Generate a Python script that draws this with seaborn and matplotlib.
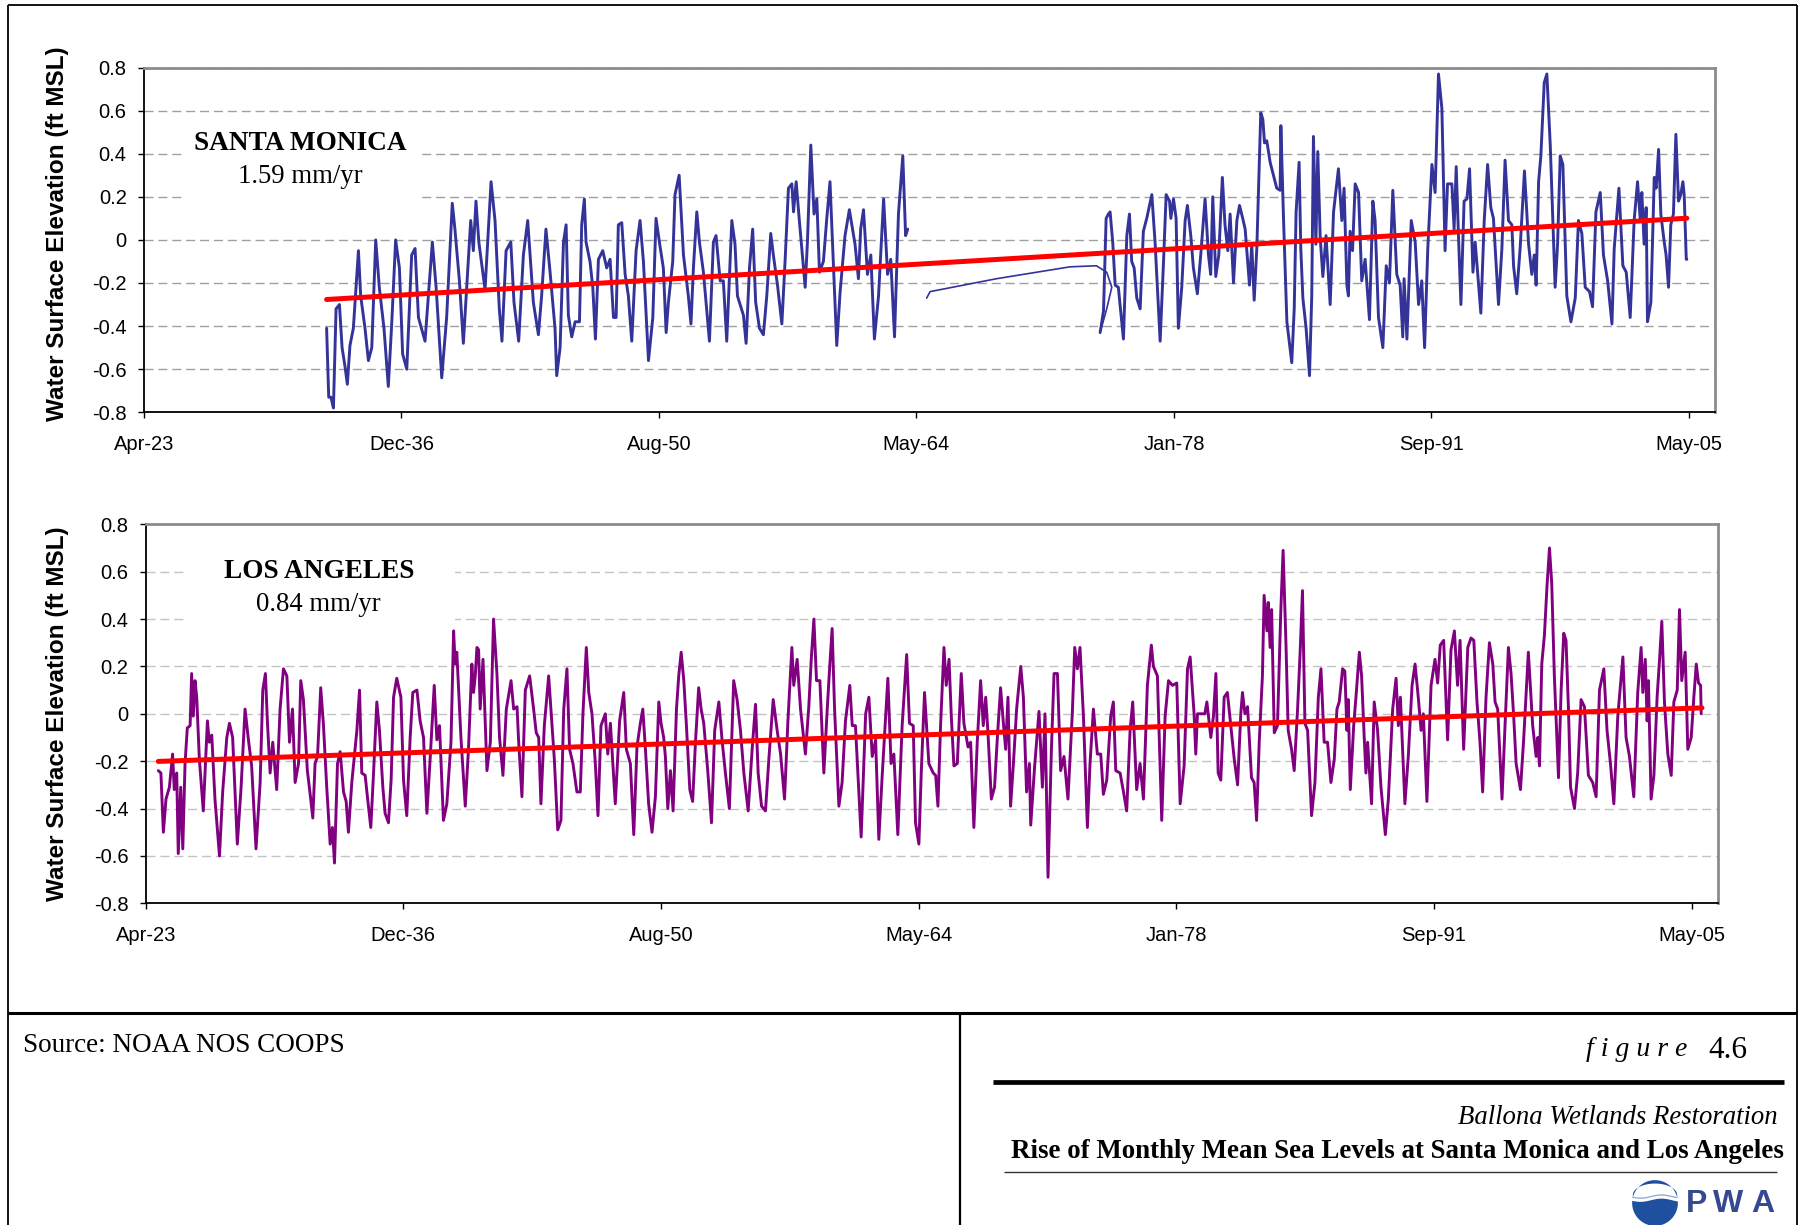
import numpy as np
import pandas as pd
import matplotlib
matplotlib.use("Agg")
import matplotlib.pyplot as plt
from matplotlib.lines import Line2D
from matplotlib.patches import Rectangle, Polygon
import seaborn as sns
from datetime import datetime, timedelta

# ---------------------------------------------------------------------------
# Monthly mean sea level (ft MSL), as (decimal year, level) pairs
# ---------------------------------------------------------------------------
sm_1933_1943 = [
    (1932.98, -0.41), (1933.09, -0.73), (1933.21, -0.73), (1933.34, -0.78), (1933.48, -0.32),
    (1933.66, -0.30), (1933.80, -0.50), (1933.96, -0.59), (1934.08, -0.67), (1934.22, -0.49),
    (1934.40, -0.41), (1934.67, -0.05), (1934.79, -0.26), (1935.02, -0.41), (1935.20, -0.56),
    (1935.38, -0.50), (1935.59, 0.00), (1935.78, -0.22), (1936.03, -0.41), (1936.26, -0.68),
    (1936.44, -0.39), (1936.65, 0.00), (1936.85, -0.13), (1937.02, -0.53), (1937.24, -0.60),
    (1937.50, -0.07), (1937.68, -0.04), (1937.86, -0.36), (1938.21, -0.47), (1938.60, -0.01),
    (1938.80, -0.22), (1939.10, -0.64), (1939.36, -0.36), (1939.66, 0.17), (1939.80, 0.05),
    (1940.04, -0.19), (1940.25, -0.48), (1940.64, 0.09), (1940.78, -0.05), (1940.92, 0.18),
    (1941.07, -0.01), (1941.40, -0.23), (1941.72, 0.27), (1941.93, 0.09), (1942.16, -0.32),
    (1942.30, -0.47), (1942.52, -0.05), (1942.77, -0.01), (1942.94, -0.29), (1943.19, -0.47),
    (1943.44, -0.07), (1943.67, 0.09),
]
sm_1944_1963 = [
    (1943.97, -0.29), (1944.24, -0.44), (1944.41, -0.26), (1944.64, 0.05), (1944.86, -0.15),
    (1945.12, -0.41), (1945.21, -0.63), (1945.39, -0.50), (1945.57, -0.01), (1945.71, 0.07),
    (1945.83, -0.35), (1946.01, -0.45), (1946.19, -0.38), (1946.42, -0.38), (1946.54, 0.07),
    (1946.68, 0.19), (1946.77, -0.01), (1946.98, -0.10), (1947.13, -0.22), (1947.27, -0.46),
    (1947.43, -0.09), (1947.66, -0.05), (1947.87, -0.13), (1948.05, -0.09), (1948.23, -0.36),
    (1948.37, -0.36), (1948.49, 0.07), (1948.67, 0.08), (1948.85, -0.16), (1949.02, -0.26),
    (1949.20, -0.47), (1949.43, -0.05), (1949.64, 0.09), (1949.82, -0.10), (1950.09, -0.56),
    (1950.32, -0.36), (1950.49, 0.10), (1950.67, -0.01), (1950.88, -0.13), (1951.03, -0.43),
    (1951.15, -0.29), (1951.38, -0.10), (1951.50, 0.21), (1951.72, 0.30), (1951.95, -0.07),
    (1952.21, -0.26), (1952.35, -0.39), (1952.48, -0.13), (1952.66, 0.13), (1952.80, -0.01),
    (1953.01, -0.15), (1953.33, -0.47), (1953.54, -0.01), (1953.68, 0.02), (1953.90, -0.19),
    (1954.07, -0.19), (1954.25, -0.47), (1954.52, 0.09), (1954.69, -0.02), (1954.82, -0.26),
    (1955.14, -0.35), (1955.28, -0.48), (1955.46, -0.13), (1955.63, 0.05), (1955.79, -0.29),
    (1955.99, -0.41), (1956.20, -0.44), (1956.38, -0.26), (1956.59, 0.03), (1956.73, -0.07),
    (1956.95, -0.21), (1957.18, -0.39), (1957.35, -0.10), (1957.53, 0.24), (1957.71, 0.26),
    (1957.80, 0.13), (1957.94, 0.27), (1958.11, 0.09), (1958.42, -0.22), (1958.54, -0.01),
    (1958.72, 0.44), (1958.89, 0.12), (1959.04, 0.19), (1959.18, -0.15), (1959.39, -0.10),
    (1959.57, 0.10), (1959.74, 0.27), (1959.89, -0.05), (1960.10, -0.49), (1960.28, -0.24),
    (1960.54, 0.02), (1960.77, 0.14), (1960.90, 0.07), (1961.07, -0.02), (1961.25, -0.18),
    (1961.37, 0.05), (1961.52, 0.14), (1961.73, -0.16), (1961.91, -0.07), (1962.10, -0.46),
    (1962.32, -0.26), (1962.59, 0.19), (1962.80, -0.16), (1962.97, -0.09), (1963.17, -0.45),
    (1963.38, 0.12), (1963.61, 0.39), (1963.76, 0.02), (1963.87, 0.05),
]
# smoothed connector drawn across the 1964-1974 record gap
sm_gap_link = [
    (1964.88, -0.27), (1965.06, -0.24), (1968.60, -0.18), (1972.50, -0.125),
    (1973.90, -0.12), (1974.45, -0.15), (1974.72, -0.22), (1974.45, -0.32), (1974.10, -0.43),
]
sm_1974_1986 = [
    (1974.10, -0.43), (1974.28, -0.33), (1974.42, 0.10), (1974.54, 0.12), (1974.63, 0.13),
    (1974.77, -0.01), (1974.90, -0.21), (1975.07, -0.22), (1975.34, -0.46), (1975.52, 0.02),
    (1975.66, 0.12), (1975.78, -0.10), (1975.91, -0.13), (1976.05, -0.27), (1976.23, -0.32),
    (1976.40, 0.04), (1976.58, 0.10), (1976.85, 0.21), (1977.02, -0.01), (1977.29, -0.47),
    (1977.47, -0.10), (1977.61, 0.21), (1977.79, 0.18), (1977.86, 0.10), (1978.00, 0.19),
    (1978.14, 0.10), (1978.26, -0.41), (1978.44, -0.22), (1978.62, 0.09), (1978.74, 0.16),
    (1978.92, 0.02), (1979.06, -0.13), (1979.27, -0.25), (1979.45, -0.07), (1979.68, 0.19),
    (1979.86, -0.07), (1979.98, -0.16), (1980.09, 0.20), (1980.25, -0.17), (1980.41, -0.07),
    (1980.60, 0.29), (1980.74, 0.07), (1980.89, -0.05), (1981.01, 0.12), (1981.19, -0.20),
    (1981.37, 0.09), (1981.51, 0.16), (1981.68, 0.10), (1981.81, 0.05), (1982.04, -0.21),
    (1982.16, -0.02), (1982.29, -0.28), (1982.43, -0.04), (1982.64, 0.59), (1982.75, 0.56),
    (1982.84, 0.45), (1982.96, 0.46), (1983.14, 0.36), (1983.49, 0.24), (1983.67, 0.23),
    (1983.71, 0.53), (1983.85, 0.10), (1984.03, -0.38), (1984.29, -0.57), (1984.42, -0.32),
    (1984.52, 0.13), (1984.68, 0.36), (1984.77, -0.04), (1984.88, -0.27), (1985.05, -0.41),
    (1985.23, -0.63), (1985.35, -0.26), (1985.44, 0.48), (1985.57, -0.02), (1985.67, 0.41),
    (1985.80, 0.01), (1985.94, -0.17), (1986.11, 0.02),
]
sm_1986_2005 = [
    (1986.33, -0.30), (1986.51, 0.13), (1986.77, 0.33), (1986.95, 0.09), (1987.07, 0.24),
    (1987.22, -0.21), (1987.30, -0.26), (1987.39, 0.04), (1987.52, -0.05), (1987.66, 0.26),
    (1987.84, 0.22), (1988.01, -0.19), (1988.19, -0.09), (1988.42, -0.37), (1988.60, 0.18),
    (1988.72, 0.09), (1988.90, -0.36), (1989.13, -0.50), (1989.31, -0.12), (1989.48, -0.20),
    (1989.66, 0.23), (1989.87, -0.16), (1990.05, -0.21), (1990.19, -0.45), (1990.26, -0.18),
    (1990.41, -0.46), (1990.64, 0.09), (1990.85, -0.01), (1991.03, -0.30), (1991.20, -0.19),
    (1991.35, -0.50), (1991.52, -0.04), (1991.74, 0.35), (1991.91, 0.22), (1992.09, 0.77),
    (1992.27, 0.61), (1992.44, -0.05), (1992.57, 0.26), (1992.80, 0.26), (1992.92, 0.05),
    (1993.03, 0.34), (1993.15, 0.02), (1993.28, -0.30), (1993.45, 0.18), (1993.60, 0.19),
    (1993.74, 0.33), (1993.92, -0.15), (1994.04, -0.01), (1994.34, -0.34), (1994.52, 0.09),
    (1994.70, 0.35), (1994.87, 0.15), (1995.01, 0.10), (1995.28, -0.30), (1995.46, -0.04),
    (1995.63, 0.37), (1995.81, 0.09), (1995.99, 0.07), (1996.08, -0.12), (1996.25, -0.25),
    (1996.43, -0.04), (1996.66, 0.32), (1996.88, -0.02), (1997.05, -0.16), (1997.18, -0.07),
    (1997.28, -0.21), (1997.41, 0.27), (1997.53, 0.39), (1997.71, 0.73), (1997.85, 0.77),
    (1998.03, 0.44), (1998.17, 0.09), (1998.29, -0.22), (1998.42, -0.02), (1998.56, 0.39),
    (1998.70, 0.35), (1998.91, -0.26), (1999.13, -0.38), (1999.36, -0.27), (1999.53, 0.09),
    (1999.71, 0.03), (1999.89, -0.22), (2000.12, -0.24), (2000.28, -0.31), (2000.46, 0.13),
    (2000.69, 0.22), (2000.86, -0.07), (2001.08, -0.19), (2001.31, -0.39), (2001.43, -0.04),
    (2001.68, 0.24), (2001.89, -0.12), (2002.07, -0.15), (2002.28, -0.36), (2002.49, 0.09),
    (2002.67, 0.27), (2002.81, 0.10), (2002.90, 0.22), (2003.02, -0.02), (2003.13, 0.15),
    (2003.20, -0.38), (2003.38, -0.29), (2003.56, 0.29), (2003.66, 0.24), (2003.79, 0.42),
    (2003.91, 0.12), (2004.09, -0.01), (2004.19, -0.07), (2004.32, -0.22), (2004.44, 0.07),
    (2004.58, 0.12), (2004.71, 0.49), (2004.85, 0.18), (2004.97, 0.21), (2005.08, 0.27),
    (2005.15, 0.21), (2005.26, -0.09), (2005.29, -0.09),
]

la_1924_1943 = [
    (1923.94, -0.24), (1924.08, -0.25), (1924.21, -0.50), (1924.35, -0.36), (1924.53, -0.31),
    (1924.70, -0.17), (1924.79, -0.32), (1924.92, -0.25), (1925.00, -0.59), (1925.13, -0.31),
    (1925.24, -0.57), (1925.36, -0.21), (1925.48, -0.06), (1925.63, -0.05), (1925.71, 0.17),
    (1925.80, -0.01), (1925.89, 0.14), (1925.98, 0.07), (1926.12, -0.19), (1926.33, -0.41),
    (1926.55, -0.03), (1926.65, -0.12), (1926.78, -0.09), (1926.95, -0.36), (1927.19, -0.60),
    (1927.36, -0.33), (1927.58, -0.10), (1927.72, -0.04), (1927.89, -0.10), (1928.14, -0.55),
    (1928.34, -0.31), (1928.55, 0.02), (1928.73, -0.11), (1928.90, -0.22), (1929.13, -0.57),
    (1929.35, -0.29), (1929.49, 0.10), (1929.63, 0.17), (1929.74, -0.04), (1929.88, -0.25),
    (1930.02, -0.12), (1930.23, -0.32), (1930.41, 0.02), (1930.59, 0.19), (1930.77, 0.16),
    (1930.91, -0.12), (1931.07, 0.02), (1931.21, -0.29), (1931.39, -0.21), (1931.51, 0.14),
    (1931.65, 0.06), (1931.86, -0.24), (1932.01, -0.34), (1932.15, -0.44), (1932.27, -0.21),
    (1932.40, -0.18), (1932.57, 0.11), (1932.71, -0.04), (1932.89, -0.31), (1933.07, -0.55),
    (1933.19, -0.48), (1933.30, -0.63), (1933.46, -0.21), (1933.60, -0.16), (1933.78, -0.33),
    (1933.92, -0.37), (1934.04, -0.50), (1934.22, -0.29), (1934.49, -0.07), (1934.63, 0.10),
    (1934.75, -0.25), (1934.93, -0.26), (1935.05, -0.35), (1935.23, -0.48), (1935.37, -0.26),
    (1935.55, 0.05), (1935.69, -0.07), (1935.87, -0.31), (1935.99, -0.42), (1936.17, -0.46),
    (1936.31, -0.28), (1936.44, 0.07), (1936.61, 0.15), (1936.83, 0.07), (1936.97, -0.28),
    (1937.14, -0.43), (1937.32, -0.10), (1937.46, 0.09), (1937.68, 0.10), (1937.85, -0.03),
    (1938.03, -0.10), (1938.21, -0.42), (1938.39, -0.18), (1938.60, 0.12), (1938.74, -0.11),
    (1938.88, -0.05), (1939.09, -0.45), (1939.27, -0.38), (1939.49, -0.12), (1939.63, 0.35),
    (1939.71, 0.21), (1939.80, 0.26), (1940.02, -0.10), (1940.25, -0.39), (1940.42, -0.15),
    (1940.60, 0.21), (1940.69, 0.09), (1940.78, 0.16), (1940.87, 0.28), (1940.96, 0.27),
    (1941.04, 0.02), (1941.19, 0.23), (1941.40, -0.24), (1941.58, -0.12), (1941.75, 0.40),
    (1941.93, 0.17), (1942.07, -0.10), (1942.25, -0.26), (1942.43, 0.02), (1942.68, 0.14),
    (1942.82, 0.02), (1943.00, 0.03), (1943.08, -0.11), (1943.26, -0.35), (1943.44, 0.10),
    (1943.67, 0.16),
]
la_1944_1964 = [
    (1943.88, 0.02), (1944.02, -0.08), (1944.15, -0.10), (1944.27, -0.38), (1944.45, -0.05),
    (1944.68, 0.16), (1944.86, -0.05), (1944.98, -0.19), (1945.16, -0.49), (1945.33, -0.45),
    (1945.48, 0.02), (1945.65, 0.19), (1945.79, -0.15), (1945.97, -0.21), (1946.18, -0.33),
    (1946.36, -0.33), (1946.50, 0.00), (1946.68, 0.28), (1946.81, 0.09), (1946.98, 0.00),
    (1947.16, -0.21), (1947.30, -0.43), (1947.46, -0.05), (1947.69, 0.00), (1947.82, -0.17),
    (1947.96, -0.04), (1948.22, -0.38), (1948.45, -0.03), (1948.67, 0.09), (1948.81, -0.15),
    (1949.02, -0.21), (1949.20, -0.51), (1949.37, -0.14), (1949.55, -0.04), (1949.68, 0.02),
    (1949.82, -0.15), (1949.99, -0.38), (1950.17, -0.50), (1950.35, -0.35), (1950.53, 0.05),
    (1950.65, -0.04), (1950.79, -0.10), (1950.88, -0.18), (1951.01, -0.40), (1951.15, -0.24),
    (1951.29, -0.41), (1951.47, 0.02), (1951.59, 0.16), (1951.72, 0.26), (1951.86, 0.14),
    (1952.00, -0.05), (1952.18, -0.32), (1952.33, -0.37), (1952.48, -0.12), (1952.65, 0.11),
    (1952.78, 0.02), (1952.92, -0.04), (1953.13, -0.24), (1953.33, -0.46), (1953.50, -0.07),
    (1953.72, 0.05), (1953.89, -0.11), (1954.07, -0.25), (1954.28, -0.40), (1954.51, 0.14),
    (1954.69, 0.06), (1954.87, -0.07), (1955.05, -0.25), (1955.28, -0.41), (1955.49, -0.15),
    (1955.67, 0.04), (1955.81, -0.25), (1955.99, -0.39), (1956.20, -0.41), (1956.38, -0.19),
    (1956.61, 0.06), (1956.82, -0.07), (1957.00, -0.17), (1957.21, -0.36), (1957.39, -0.03),
    (1957.60, 0.28), (1957.70, 0.12), (1957.88, 0.23), (1958.06, 0.02), (1958.32, -0.17),
    (1958.50, 0.03), (1958.63, 0.23), (1958.77, 0.40), (1958.91, 0.14), (1959.09, 0.14),
    (1959.30, -0.25), (1959.48, 0.02), (1959.62, 0.21), (1959.74, 0.36), (1959.87, 0.02),
    (1960.10, -0.39), (1960.27, -0.29), (1960.45, -0.03), (1960.68, 0.12), (1960.81, -0.05),
    (1960.98, -0.05), (1961.28, -0.52), (1961.52, 0.00), (1961.69, 0.07), (1961.87, -0.18),
    (1962.05, -0.11), (1962.22, -0.53), (1962.40, -0.26), (1962.70, 0.15), (1962.87, -0.21),
    (1963.02, -0.17), (1963.23, -0.51), (1963.46, -0.05), (1963.70, 0.25), (1963.85, -0.04),
    (1964.05, -0.05), (1964.17, -0.46), (1964.35, -0.55), (1964.48, -0.24), (1964.65, 0.09),
    (1964.88, -0.21),
]
la_1965_1986 = [
    (1965.11, -0.25), (1965.24, -0.26), (1965.36, -0.39), (1965.50, -0.05), (1965.68, 0.28),
    (1965.80, 0.12), (1965.95, 0.23), (1966.07, -0.01), (1966.21, -0.22), (1966.39, -0.21),
    (1966.60, 0.17), (1966.74, -0.04), (1966.96, -0.14), (1967.10, -0.12), (1967.27, -0.48),
    (1967.45, -0.12), (1967.63, 0.14), (1967.77, -0.05), (1967.90, 0.07), (1968.02, -0.08),
    (1968.20, -0.36), (1968.37, -0.31), (1968.52, -0.10), (1968.69, 0.11), (1968.84, -0.04),
    (1968.96, -0.15), (1969.08, 0.07), (1969.22, -0.39), (1969.37, -0.21), (1969.54, 0.02),
    (1969.76, 0.20), (1969.90, 0.07), (1970.07, -0.33), (1970.22, -0.21), (1970.29, -0.47),
    (1970.50, -0.22), (1970.73, 0.01), (1970.91, -0.31), (1971.05, 0.00), (1971.21, -0.69),
    (1971.39, -0.15), (1971.53, 0.17), (1971.71, 0.17), (1971.88, -0.24), (1972.06, -0.18),
    (1972.27, -0.36), (1972.50, 0.00), (1972.63, 0.28), (1972.77, 0.19), (1972.91, 0.28),
    (1973.09, -0.01), (1973.30, -0.48), (1973.44, -0.21), (1973.62, 0.02), (1973.83, -0.17),
    (1974.01, -0.17), (1974.15, -0.34), (1974.33, -0.28), (1974.54, -0.01), (1974.68, 0.05),
    (1974.81, -0.24), (1975.04, -0.25), (1975.22, -0.33), (1975.39, -0.41), (1975.57, -0.07),
    (1975.71, 0.05), (1975.92, -0.32), (1976.10, -0.21), (1976.28, -0.36), (1976.49, 0.12),
    (1976.70, 0.29), (1976.81, 0.20), (1977.02, 0.16), (1977.25, -0.45), (1977.43, -0.01),
    (1977.61, 0.14), (1977.82, 0.12), (1978.05, 0.13), (1978.23, -0.38), (1978.44, -0.22),
    (1978.62, 0.19), (1978.76, 0.24), (1978.97, 0.00), (1979.06, -0.17), (1979.15, 0.00),
    (1979.54, 0.00), (1979.65, 0.05), (1979.86, -0.10), (1980.00, -0.01), (1980.13, 0.17),
    (1980.25, -0.25), (1980.39, -0.28), (1980.57, 0.07), (1980.74, 0.09), (1980.92, -0.05),
    (1981.10, -0.19), (1981.28, -0.30), (1981.45, 0.00), (1981.54, 0.09), (1981.67, 0.00),
    (1981.81, 0.03), (1982.02, -0.27), (1982.16, -0.29), (1982.29, -0.45), (1982.43, -0.12),
    (1982.60, 0.16), (1982.69, 0.50), (1982.84, 0.35), (1982.91, 0.47), (1983.01, 0.28),
    (1983.09, 0.44), (1983.23, -0.08), (1983.40, -0.05), (1983.58, 0.44), (1983.70, 0.69),
    (1983.85, 0.30), (1983.97, -0.07), (1984.15, -0.15), (1984.29, -0.24), (1984.47, 0.02),
    (1984.61, 0.27), (1984.73, 0.52), (1984.86, -0.04), (1985.00, -0.07), (1985.21, -0.43),
    (1985.39, -0.29), (1985.57, 0.07), (1985.71, 0.19), (1985.88, -0.12), (1986.06, -0.12),
]
la_1986_2005 = [
    (1986.24, -0.29), (1986.42, -0.19), (1986.56, 0.02), (1986.68, 0.05), (1986.86, 0.19),
    (1986.98, 0.18), (1987.09, -0.07), (1987.16, 0.06), (1987.27, -0.32), (1987.45, -0.05),
    (1987.57, 0.07), (1987.75, 0.26), (1987.87, 0.16), (1988.01, -0.10), (1988.10, -0.25),
    (1988.19, -0.12), (1988.40, -0.38), (1988.54, 0.05), (1988.72, -0.07), (1988.90, -0.31),
    (1989.13, -0.51), (1989.29, -0.36), (1989.52, 0.02), (1989.70, 0.15), (1989.82, -0.05),
    (1989.93, 0.07), (1990.17, -0.38), (1990.35, -0.18), (1990.55, 0.12), (1990.71, 0.21),
    (1990.88, 0.07), (1991.03, -0.07), (1991.15, 0.00), (1991.34, -0.37), (1991.56, 0.12),
    (1991.77, 0.23), (1991.91, 0.13), (1992.05, 0.29), (1992.23, 0.31), (1992.44, -0.11),
    (1992.62, 0.27), (1992.80, 0.35), (1992.97, 0.12), (1993.10, 0.31), (1993.29, -0.15),
    (1993.51, 0.28), (1993.68, 0.32), (1993.83, 0.31), (1994.00, 0.05), (1994.16, -0.12),
    (1994.30, -0.33), (1994.48, 0.07), (1994.66, 0.30), (1994.84, 0.21), (1994.96, 0.05),
    (1995.10, 0.02), (1995.33, -0.36), (1995.49, -0.05), (1995.67, 0.28), (1995.81, 0.17),
    (1995.95, -0.01), (1996.08, -0.21), (1996.31, -0.32), (1996.48, -0.11), (1996.73, 0.26),
    (1996.96, -0.05), (1997.14, -0.18), (1997.23, -0.10), (1997.32, -0.22), (1997.44, 0.21),
    (1997.58, 0.33), (1997.72, 0.54), (1997.85, 0.70), (1997.97, 0.55), (1998.11, 0.16),
    (1998.33, -0.27), (1998.47, 0.10), (1998.61, 0.34), (1998.73, 0.31), (1998.86, 0.02),
    (1998.97, -0.31), (1999.18, -0.40), (1999.35, -0.25), (1999.53, 0.06), (1999.71, 0.03),
    (1999.92, -0.26), (2000.15, -0.29), (2000.33, -0.35), (2000.51, 0.10), (2000.74, 0.19),
    (2000.91, -0.07), (2001.09, -0.21), (2001.27, -0.38), (2001.48, -0.01), (2001.75, 0.24),
    (2001.92, -0.10), (2002.10, -0.18), (2002.33, -0.35), (2002.54, 0.09), (2002.72, 0.28),
    (2002.81, 0.09), (2002.94, 0.23), (2003.04, -0.03), (2003.11, 0.14), (2003.25, -0.36),
    (2003.40, -0.26), (2003.57, 0.07), (2003.70, 0.23), (2003.82, 0.39), (2003.96, 0.05),
    (2004.14, -0.17), (2004.32, -0.26), (2004.46, 0.05), (2004.64, 0.10), (2004.76, 0.44),
    (2004.88, 0.14), (2005.06, 0.26), (2005.20, -0.15), (2005.38, -0.10), (2005.52, 0.07),
    (2005.65, 0.21), (2005.77, 0.13), (2005.88, 0.12), (2005.91, 0.00),
]

# linear trends: stated rate (mm/yr), span of record and mid-record level (ft)
sm_rate_mm = 1.59
sm_span = (1932.98, 2005.29)
sm_mid_level = -0.088
la_rate_mm = 0.84
la_span = (1923.94, 2005.95)
la_mid_level = -0.088

y_tick_values = [-0.8, -0.6, -0.4, -0.2, 0.0, 0.2, 0.4, 0.6, 0.8]
y_tick_labels = ["-0.8", "-0.6", "-0.4", "-0.2", "0", "0.2", "0.4", "0.6", "0.8"]

# ---------------------------------------------------------------------------
W, H = 1799, 1225
sns.set_theme(style="white")
plt.rcParams["font.family"] = ["Liberation Sans", "DejaVu Sans"]
SERIF = ["Liberation Serif", "DejaVu Serif"]

SM_BLUE = "#333399"
LA_PURPLE = "#800080"
TREND_RED = "#FF0000"


def to_date(y):
    yr = int(np.floor(y))
    return datetime(yr, 1, 1) + timedelta(days=(y - yr) * 365.25)


def frame(pairs):
    df = pd.DataFrame(pairs, columns=["year", "level"])
    df["date"] = [to_date(v) for v in df["year"]]
    return df


def trend_frame(rate_mm, span, mid_level):
    slope = rate_mm / 304.8  # ft per year
    mid = 0.5 * (span[0] + span[1])
    pts = [(span[0], mid_level + slope * (span[0] - mid)),
           (span[1], mid_level + slope * (span[1] - mid))]
    return frame(pts)


def fx(x):
    return x / W


def fy(y):
    return 1 - y / H


AX_START = datetime(1923, 4, 10)
TICK_STEP = 5000
X_END = AX_START + timedelta(days=30505)

fig = plt.figure(figsize=(W / 100, H / 100), dpi=100)
fig.patch.set_facecolor("white")


def make_axes(left, right, top, bottom):
    ax = fig.add_axes([fx(left), fy(bottom), (right - left) / W, (bottom - top) / H])
    ax.set_facecolor("white")
    return ax


def style_axes(ax):
    ax.set_xlim(AX_START, X_END)
    ax.set_ylim(-0.8, 0.8)
    ticks = [AX_START + timedelta(days=TICK_STEP * k) for k in range(7)]
    ax.set_xticks(ticks)
    ax.set_xticklabels([t.strftime("%b-%y") for t in ticks])
    ax.set_yticks(y_tick_values)
    ax.set_yticklabels(y_tick_labels)
    ax.set_xlabel("")
    ax.set_ylabel("")
    ax.tick_params(axis="both", which="major", direction="out", length=4.5, width=1,
                   color="black", labelsize=14.5, labelcolor="black",
                   bottom=True, left=True)
    ax.tick_params(axis="x", pad=12)
    ax.tick_params(axis="y", pad=8)
    ax.yaxis.grid(True, linestyle=(0, (6.5, 3.5)), color="#a0a0a0", linewidth=1.0)
    ax.xaxis.grid(False)
    ax.set_axisbelow(True)
    for side in ("left", "bottom"):
        ax.spines[side].set_color("black")
        ax.spines[side].set_linewidth(1.3)
    for side in ("top", "right"):
        ax.spines[side].set_color("#8c8c8c")
        ax.spines[side].set_linewidth(2.0)


def blank_box(ax, x0, y0, x1, y1):
    ax.add_patch(Rectangle((fx(x0), fy(y1)), (x1 - x0) / W, (y1 - y0) / H,
                           transform=fig.transFigure, facecolor="white",
                           edgecolor="none", zorder=1))


def line(ax, pairs, color, lw, sort=False):
    sns.lineplot(data=frame(pairs), x="date", y="level", ax=ax, color=color,
                 linewidth=lw, estimator=None, sort=sort, legend=False, zorder=3)


# ---------------- Santa Monica ----------------
ax1 = make_axes(144, 1715, 67.5, 412.3)
line(ax1, sm_1933_1943 + sm_1944_1963, SM_BLUE, 2.1)
line(ax1, sm_gap_link, SM_BLUE, 1.2)
line(ax1, sm_1974_1986 + sm_1986_2005, SM_BLUE, 2.1)
sns.lineplot(data=trend_frame(sm_rate_mm, sm_span, sm_mid_level), x="date", y="level",
             ax=ax1, color=TREND_RED, linewidth=3.6, legend=False, zorder=4,
             solid_capstyle="round")
style_axes(ax1)
blank_box(ax1, 183, 118, 420, 204)
fig.text(fx(300), fy(150), "SANTA MONICA", ha="center", va="baseline",
         family=SERIF, weight="bold", fontsize=19.6, color="black")
fig.text(fx(300), fy(183), "1.59 mm/yr", ha="center", va="baseline",
         family=SERIF, fontsize=19.3, color="black")

# ---------------- Los Angeles ----------------
ax2 = make_axes(145.7, 1717.7, 524.3, 903.3)
line(ax2, la_1924_1943 + la_1944_1964 + la_1965_1986 + la_1986_2005, LA_PURPLE, 2.1)
sns.lineplot(data=trend_frame(la_rate_mm, la_span, la_mid_level), x="date", y="level",
             ax=ax2, color=TREND_RED, linewidth=3.6, legend=False, zorder=4,
             solid_capstyle="round")
style_axes(ax2)
ax2.yaxis.grid(True, linestyle=(0, (6.5, 3.5)), color="#c4c4c4", linewidth=1.0)
blank_box(ax2, 185, 546, 455, 628)
fig.text(fx(319), fy(578), "LOS ANGELES", ha="center", va="baseline",
         family=SERIF, weight="bold", fontsize=19.6, color="black")
fig.text(fx(318), fy(611), "0.84 mm/yr", ha="center", va="baseline",
         family=SERIF, fontsize=19.3, color="black")

for yc in (234, 714):
    fig.text(fx(58), fy(yc), "Water Surface Elevation (ft MSL)", rotation=90,
             ha="center", va="center", fontsize=17.5, weight="bold", color="black")

# ---------------- page frame and title block ----------------
def page_line(xs, ys, lw, color="black"):
    fig.add_artist(Line2D([fx(x) for x in xs], [fy(y) for y in ys],
                          transform=fig.transFigure, color=color, linewidth=lw,
                          solid_capstyle="butt"))


page_line([8, 1797], [5, 5], 1.3)
page_line([8, 8], [5, 1225], 1.3)
page_line([1797, 1797], [5, 1225], 1.3)
page_line([8, 1797], [1013, 1013], 2.2)
page_line([960, 960], [1013, 1225], 1.6)
page_line([993, 1784], [1082, 1082], 3.4)
page_line([1004, 1777], [1172, 1172], 1.0, color="#333333")

fig.text(fx(23), fy(1045), "Source: NOAA NOS COOPS", ha="left", va="center",
         family=SERIF, fontsize=19.5, color="black")
fig.text(fx(1687), fy(1050), "f i g u r e", ha="right", va="center",
         family=SERIF, style="italic", fontsize=20, color="black")
fig.text(fx(1708), fy(1050), "4.6", ha="left", va="center",
         family=SERIF, fontsize=22.5, color="black")
fig.text(fx(1778), fy(1117.5), "Ballona Wetlands Restoration", ha="right", va="center",
         family=SERIF, style="italic", fontsize=19.3, color="black")
fig.text(fx(1784), fy(1151), "Rise of Monthly Mean Sea Levels at Santa Monica and Los Angeles",
         ha="right", va="center", family=SERIF, weight="bold", fontsize=19.4, color="black")

# PWA logo: blue dome cap, light wave line, filled lower half
LOGO_BLUE = "#1f4f9f"
axl = fig.add_axes([fx(1631), fy(1227), 48 / W, 48 / H])
axl.set_xlim(-1.05, 1.05)
axl.set_ylim(-1.05, 1.05)
axl.set_aspect("equal")
axl.axis("off")
t = np.linspace(np.radians(8), np.radians(172), 100)
cap = np.vstack([np.c_[np.cos(t), np.sin(t)],
                 np.c_[np.cos(t[::-1]) * 0.97, 0.35 + 0.5 * np.sin(t[::-1])]])
axl.add_patch(Polygon(cap, closed=True, facecolor=LOGO_BLUE, edgecolor="none"))
xw = np.linspace(-0.95, 0.95, 100)
axl.plot(xw, 0.28 + 0.07 * np.sin(xw * 3.4 + 0.6), color="#8fb0da", lw=1.0)
xb = np.linspace(-0.99, 0.99, 100)
wave = 0.12 + 0.07 * np.sin(xb * 3.4 + 0.6)
ang0 = np.arcsin(np.clip(wave[-1], -1, 1))
ang1 = np.pi - np.arcsin(np.clip(wave[0], -1, 1))
arc_t = np.linspace(ang0, ang1 - 2 * np.pi, 120)
bottom = np.vstack([np.c_[xb, wave], np.c_[np.cos(arc_t), np.sin(arc_t)]])
axl.add_patch(Polygon(bottom, closed=True, facecolor=LOGO_BLUE, edgecolor="none"))
for cx, ch in zip((1697, 1728, 1763), "PWA"):
    fig.text(fx(cx), fy(1204), ch, ha="center", va="center",
             fontsize=23, weight="bold", color="#34498f")

fig.savefig("out.png", dpi=100, facecolor="white")
